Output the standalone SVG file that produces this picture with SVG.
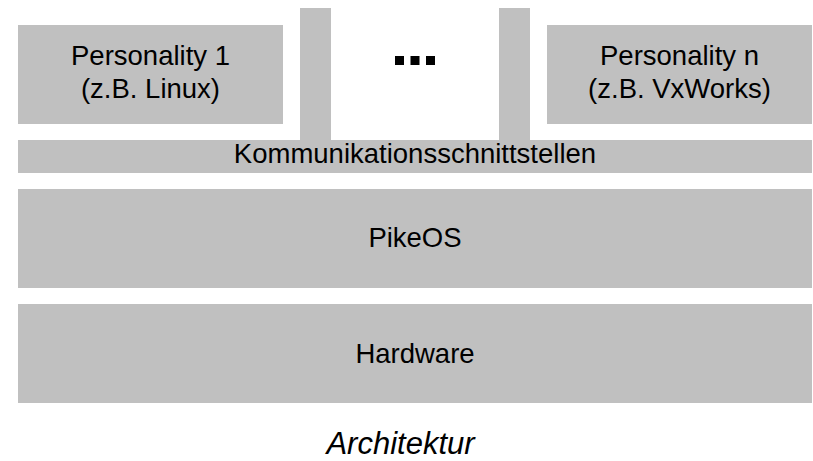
<svg xmlns="http://www.w3.org/2000/svg" width="813" height="461" viewBox="0 0 813 461">
<style>
.box{fill:#c0c0c0;}
.t{font-family:"Liberation Sans",Arial,sans-serif;font-size:27.5px;fill:#000;text-anchor:middle;}
.cap{font-family:"Liberation Sans",Arial,sans-serif;font-size:31px;font-style:italic;fill:#000;text-anchor:middle;}
.dot{fill:#000;}
</style>
<rect width="813" height="461" fill="#ffffff"/>
<g id="pillar-left"><rect class="box" x="300" y="8" width="31" height="133"/></g>
<g id="pillar-right"><rect class="box" x="499" y="8" width="31" height="133"/></g>
<g id="personality1">
<rect class="box" x="18" y="25" width="265" height="99"/>
<text class="t" x="150.5" y="65">Personality 1</text>
<text class="t" x="150.5" y="97.5">(z.B. Linux)</text>
</g>
<g id="ellipsis">
<rect class="dot" x="395" y="56" width="9" height="9"/>
<rect class="dot" x="410.5" y="56" width="9" height="9"/>
<rect class="dot" x="426" y="56" width="9" height="9"/>
</g>
<g id="personalityn">
<rect class="box" x="547" y="25" width="265" height="99"/>
<text class="t" x="679.5" y="65">Personality n</text>
<text class="t" x="679.5" y="97.5">(z.B. VxWorks)</text>
</g>
<g id="komm">
<rect class="box" x="18" y="140" width="794" height="33"/>
<text class="t" x="415" y="163.3">Kommunikationsschnittstellen</text>
</g>
<g id="pikeos">
<rect class="box" x="18" y="189" width="794" height="99"/>
<text class="t" x="415" y="246.7">PikeOS</text>
</g>
<g id="hardware">
<rect class="box" x="18" y="304" width="794" height="99"/>
<text class="t" x="415" y="362.7">Hardware</text>
</g>
<g id="connectors"></g>
<text class="cap" x="400.5" y="454">Architektur</text>
</svg>
